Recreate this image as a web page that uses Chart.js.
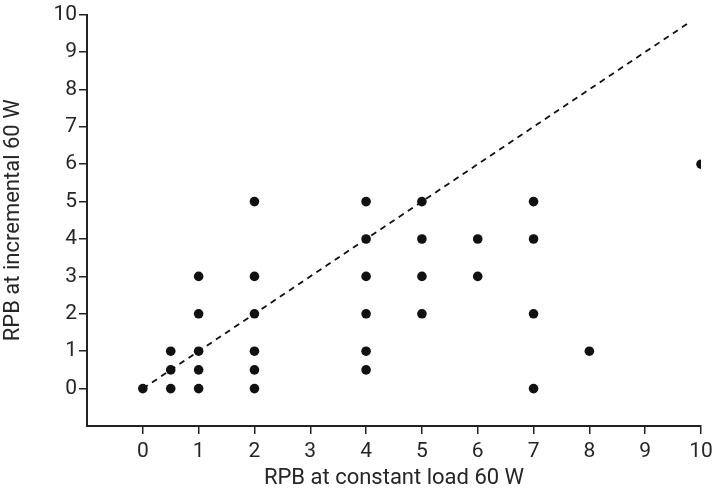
<!DOCTYPE html>
<html><head><meta charset="utf-8">
<script src="https://cdn.jsdelivr.net/npm/chart.js@4"></script>
<style>html,body{margin:0;padding:0;background:#fff}#wrap{width:720px;height:492px}</style>
</head><body><div id="wrap"><canvas id="c" width="720" height="492"></canvas></div>
<script>
const constantLoad = [0, 0.5,0.5,0.5, 1,1,1,1,1, 2,2,2,2,2,2, 4,4,4,4,4,4, 5,5,5,5, 6,6, 7,7,7,7, 8, 10];
const incremental  = [0, 0,0.5,1, 0,0.5,1,2,3, 0,0.5,1,2,3,5, 0.5,1,2,3,4,5, 2,3,4,5, 3,4, 0,2,4,5, 1, 6];
const identityLine = [0, 9.8];
const tickValues = [0,1,2,3,4,5,6,7,8,9,10];
const xTitle = 'RPB at constant load 60 W';
const yTitle = 'RPB at incremental 60 W';

const pts = constantLoad.map((x,i)=>({x, y: incremental[i]}));
const linePts = identityLine.map(v=>({x:v, y:v}));
const txt = '#262626';
const fontFam = 'Roboto, "Liberation Sans", sans-serif';

new Chart(document.getElementById('c'), {
  type: 'scatter',
  data: { datasets: [
    { data: linePts, showLine: true, borderColor: '#111', borderWidth: 1.8, borderDash: [6,5], pointRadius: 0, fill: false },
    { data: pts, backgroundColor: '#111', borderColor: '#111', pointRadius: 4.8, pointBorderWidth: 0 }
  ]},
  options: {
    responsive: false, animation: false,
    layout: { padding: { left: 0, right: 19, top: 13, bottom: 0 } },
    plugins: { legend: { display: false }, tooltip: { enabled: false } },
    scales: {
      x: {
        type: 'linear', min: -1, max: 10,
        afterBuildTicks: a => { a.ticks = tickValues.map(v=>({value:v})); },
        afterFit: a => { a.height = 66; },
        grid: { drawOnChartArea: false, drawTicks: true, tickLength: 8, color: '#222', lineWidth: 1.5 },
        border: { display: true, color: '#222', width: 2 },
        ticks: { color: txt, font: { family: fontFam, size: 21, weight: 400 }, padding: 5, maxRotation: 0, autoSkip: false },
        title: { display: true, text: xTitle, color: txt, font: { family: fontFam, size: 22, weight: 400 }, padding: { top: 0, bottom: 0 } }
      },
      y: {
        type: 'linear', min: -1, max: 10,
        afterBuildTicks: a => { a.ticks = tickValues.map(v=>({value:v})); },
        afterFit: a => { a.width = 87; },
        grid: { drawOnChartArea: false, drawTicks: true, tickLength: 8, color: '#222', lineWidth: 1.5 },
        border: { display: true, color: '#222', width: 2 },
        ticks: { color: txt, font: { family: fontFam, size: 21, weight: 400 }, padding: 2, autoSkip: false },
        title: { display: true, text: yTitle, color: txt, font: { family: fontFam, size: 22, weight: 400 }, padding: { top: 0, bottom: 0 } }
      }
    }
  }
});
</script></body></html>
